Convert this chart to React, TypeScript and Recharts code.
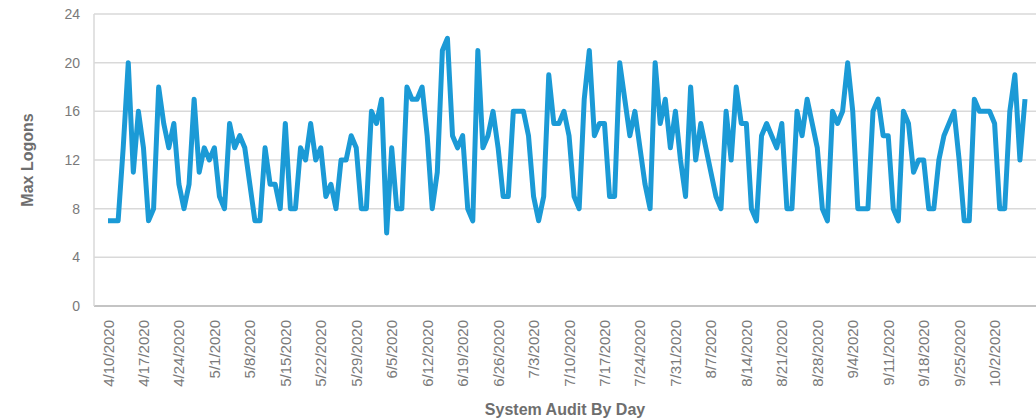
import { LineChart, Line, XAxis, YAxis, CartesianGrid, Label } from 'recharts'

// ─── Data ────────────────────────────────────────────────────────────────────

const START_DATE = new Date(2020, 3, 10) // 4/10/2020

const maxLogons = [
  7, 7, 7, 13, 20, 11, 16, 13, 7, 8, 18, 15, 13, 15, 10, 8, 10, 17, 11, 13, 12, 13, 9, 8,
  15, 13, 14, 13, 10, 7, 7, 13, 10, 10, 8, 15, 8, 8, 13, 12, 15, 12, 13, 9, 10, 8, 12, 12, 14, 13,
  8, 8, 16, 15, 17, 6, 13, 8, 8, 18, 17, 17, 18, 14, 8, 11, 21, 22, 14, 13, 14, 8, 7, 21, 13, 14,
  16, 13, 9, 9, 16, 16, 16, 14, 9, 7, 9, 19, 15, 15, 16, 14, 9, 8, 17, 21, 14, 15, 15, 9, 9, 20,
  17, 14, 16, 13, 10, 8, 20, 15, 17, 13, 16, 12, 9, 18, 12, 15, 13, 11, 9, 8, 16, 12, 18, 15, 15,
  8, 7, 14, 15, 14, 13, 15, 8, 8, 16, 14, 17, 15, 13, 8, 7, 16, 15, 16, 20, 16, 8, 8, 8, 16, 17,
  14, 14, 8, 7, 16, 15, 11, 12, 12, 8, 8, 12, 14, 15, 16, 12, 7, 7, 17, 16, 16, 16, 15, 8, 8, 16, 19, 12, 17,
]

const yTicks = [0, 4, 8, 12, 16, 20, 24]

// one category per day, starting 4/10/2020
const days = maxLogons.map((_, i) => {
  const d = new Date(START_DATE)
  d.setDate(d.getDate() + i)
  return `${d.getMonth() + 1}/${d.getDate()}/${d.getFullYear()}`
})

const data = days.map((day, i) => ({ day, logons: maxLogons[i] }))

// ─── Styling ─────────────────────────────────────────────────────────────────

const FONT = '"Liberation Sans", Arial, sans-serif'
const TICK_GREY = '#7a7a7a'
const TITLE_GREY = '#6e6e6e'
const GRID = '#d9d9d9'
const LINE_BLUE = '#1b9ad6'

const DateTick = ({ x, y, payload }: any) => (
  <text
    x={x}
    y={y + 6}
    transform={`rotate(-90, ${x}, ${y + 6})`}
    textAnchor="end"
    dominantBaseline="central"
    fill={TICK_GREY}
    fontSize={15}
    fontFamily={FONT}
  >
    {payload.value}
  </text>
)

// ─── Component ───────────────────────────────────────────────────────────────

export default function App() {
  return (
    <div style={{ position: 'absolute', left: 0, top: 0, width: 1036, height: 420, background: '#fff' }}>
      <LineChart
        width={1036}
        height={420}
        data={data}
        margin={{ top: 14, right: 0, left: 0, bottom: 0 }}
      >
        <CartesianGrid horizontal vertical={false} stroke={GRID} strokeWidth={1.5} />
        <XAxis
          dataKey="day"
          interval={6}
          height={114}
          padding={{ left: 14, right: 11 }}
          tick={<DateTick />}
          tickLine={false}
          axisLine={{ stroke: '#c4c4c4', strokeWidth: 2 }}
        >
          <Label
            content={({ viewBox }: any) => (
              <text
                x={viewBox.x + viewBox.width / 2}
                y={415}
                textAnchor="middle"
                fill={TITLE_GREY}
                fontSize={16}
                fontWeight="bold"
                fontFamily={FONT}
              >
                System Audit By Day
              </text>
            )}
          />
        </XAxis>
        <YAxis
          domain={[0, 24]}
          ticks={yTicks}
          width={94}
          tickSize={0}
          tickMargin={14}
          tick={{ fill: TICK_GREY, fontSize: 14, fontFamily: FONT }}
          axisLine={{ stroke: GRID, strokeWidth: 1.5 }}
          tickLine={false}
        >
          <Label
            content={({ viewBox }: any) => {
              const cx = 27
              const cy = viewBox.y + viewBox.height / 2
              return (
                <text
                  x={cx}
                  y={cy}
                  transform={`rotate(-90, ${cx}, ${cy})`}
                  textAnchor="middle"
                  dominantBaseline="central"
                  fill={TITLE_GREY}
                  fontSize={16}
                  fontWeight="bold"
                  fontFamily={FONT}
                >
                  Max Logons
                </text>
              )
            }}
          />
        </YAxis>
        <Line
          type="linear"
          dataKey="logons"
          stroke={LINE_BLUE}
          strokeWidth={5}
          strokeLinejoin="round"
          dot={false}
          activeDot={false}
          isAnimationActive={false}
        />
      </LineChart>
    </div>
  )
}
